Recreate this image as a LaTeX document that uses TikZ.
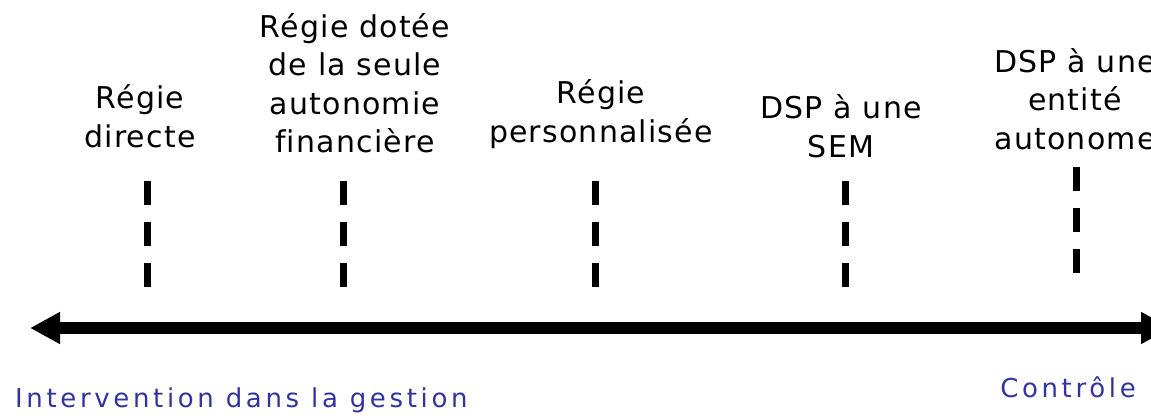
\documentclass[tikz,border=0pt]{standalone}
\usepackage{fontspec}
\setmainfont{DejaVu Sans}
\newfontfamily\labelfont[LetterSpace=4,Ligatures=NoCommon]{DejaVu Sans}
\newfontfamily\sidefont[LetterSpace=14]{DejaVu Sans}
\usepackage{tikz}
\usetikzlibrary{arrows.meta}
\definecolor{legendblue}{RGB}{51,51,160}

\begin{document}
\begin{tikzpicture}
  [
    x=1pt, y=-1pt,
    label/.style =
      {align=center, inner sep=0pt, font=\labelfont\fontsize{30}{38.5}\selectfont},
    side/.style =
      {inner sep=0pt, text=legendblue, font=\sidefont\fontsize{26}{30}\selectfont},
    marker/.style =
      {line width=7pt, dash pattern=on 24pt off 17pt},
    axis/.style =
      {line width=12pt, {Triangle[length=30pt,width=30pt]}-{Triangle[length=30pt,width=30pt]}}
  ]
  \useasboundingbox (0,0) rectangle (1151,415);
  \clip (0,0) rectangle (1151,415);

  \node [label] at ( 140,116) (l1) {Régie\\directe};
  \node [label] at ( 355, 83) (l2) {Régie dotée\\de la seule\\autonomie\\financière};
  \node [label] at ( 601,114) (l3) {Régie\\personnalisée};
  \node [label] at ( 841,126) (l4) {DSP à une\\SEM};
  \node [label] at (1075, 99) (l5) {DSP à une\\entité\\autonome};

  \coordinate (t1) at ( 147,181);  \coordinate (b1) at ( 147,288);
  \coordinate (t2) at ( 343,181);  \coordinate (b2) at ( 343,288);
  \coordinate (t3) at ( 595,181);  \coordinate (b3) at ( 595,288);
  \coordinate (t4) at ( 845,181);  \coordinate (b4) at ( 845,288);
  \coordinate (t5) at (1076,167);  \coordinate (b5) at (1076,275);

  \draw[marker] (t1) -- (b1);
  \draw[marker] (t2) -- (b2);
  \draw[marker] (t3) -- (b3);
  \draw[marker] (t4) -- (b4);
  \draw[marker] (t5) -- (b5);

  \coordinate (left)  at (  30,328);
  \coordinate (right) at (1171,328);
  \draw[axis] (left) -- (right);

  \node [side, anchor=west] at (  15,400) (gest) {Intervention dans la gestion};
  \node [side]              at (1068,387) (ctrl) {Contrôle};

\end{tikzpicture}
\end{document}
